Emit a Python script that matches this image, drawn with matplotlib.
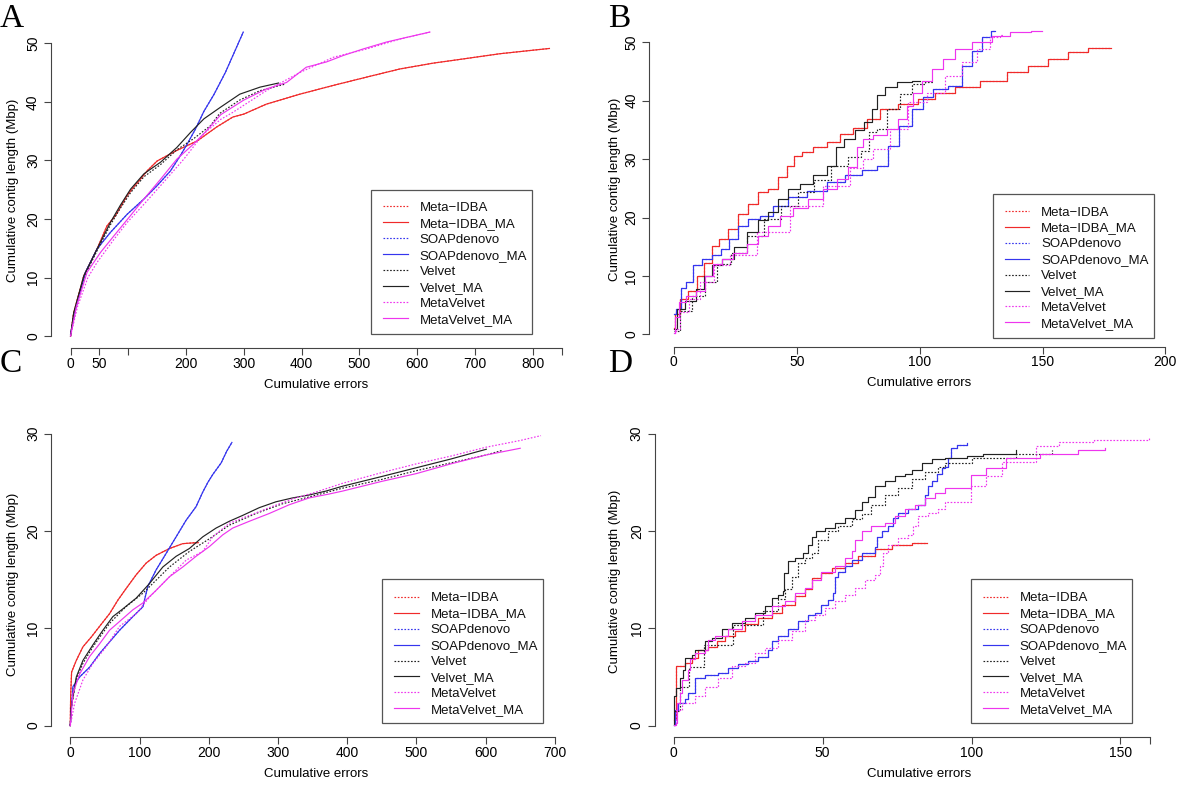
import matplotlib
matplotlib.use("Agg")
import matplotlib.pyplot as plt
from matplotlib.patches import Rectangle
from matplotlib.lines import Line2D

plt.rcParams['font.family'] = ['Liberation Sans', 'DejaVu Sans']

# ---------------- data ----------------
labels = ["Meta\u2212IDBA", "Meta\u2212IDBA_MA", "SOAPdenovo", "SOAPdenovo_MA",
          "Velvet", "Velvet_MA", "MetaVelvet", "MetaVelvet_MA"]
colors = ["#f02a2a", "#f02a2a", "#3535ee", "#3535ee",
          "#222222", "#222222", "#ee35ee", "#ee35ee"]
dotted = [True, False, True, False, True, False, True, False]

# Panel A
a_idba_ma_x = [0, 5.5, 23, 46, 63, 78, 98, 109, 121, 132.5, 150, 184, 219, 253, 281, 300, 339, 397, 455, 512, 570, 628, 686, 743, 800, 829]
a_idba_ma_y = [0, 4, 10.3, 14.9, 18.8, 20.6, 24, 25.4, 26.8, 28.2, 29.9, 31.7, 33.3, 35.7, 37.4, 37.9, 39.6, 41.3, 42.8, 44.2, 45.6, 46.6, 47.4, 48.2, 48.8, 49.1]
a_idba_x, a_idba_y = a_idba_ma_x, a_idba_ma_y
a_soap_ma_x = [0, 8.5, 25.8, 46, 69, 98, 127, 150, 173, 190, 202, 216, 231, 248, 268, 286, 299]
a_soap_ma_y = [0.3, 4.6, 10.9, 14.9, 17.7, 20.8, 23.4, 25.7, 28.2, 30.8, 32.8, 35.3, 38.4, 41.2, 45.0, 49.0, 51.9]
a_soap_x, a_soap_y = a_soap_ma_x, a_soap_ma_y
a_velvet_ma_x = [0, 5.5, 23, 46, 69, 86, 104, 127, 156, 184, 208, 231, 260, 293, 328, 360]
a_velvet_ma_y = [0, 4, 10.3, 14.9, 19.4, 22.3, 25.1, 27.7, 29.7, 32.2, 34.8, 37.1, 39.1, 41.3, 42.5, 43.2]
a_velvet_x = [0, 5.5, 23, 46, 69, 86, 104, 127, 156, 184, 213, 242, 258, 293, 328, 371]
a_velvet_y = [0, 3.8, 10.0, 14.6, 19.0, 21.8, 24.5, 27.2, 29.3, 31.8, 33.7, 35.9, 38.0, 40.3, 41.9, 43.0]
a_mvelvet_ma_x = [0, 10, 28.6, 52, 75, 104, 127, 156, 184, 213, 235, 260, 300, 339, 374, 408, 443, 472, 506, 547, 582, 622]
a_mvelvet_ma_y = [0, 5, 10.9, 14.3, 17.1, 20.6, 23.4, 26.8, 30.2, 32.8, 35.0, 37.8, 40.3, 42.2, 43.3, 45.9, 46.8, 47.9, 49, 50.2, 51, 51.9]
a_mvelvet_x = [0, 12, 30, 46, 75, 98, 127, 156, 196, 230, 260, 281, 339, 397, 455, 512, 570, 622]
a_mvelvet_y = [0, 5, 10, 12.6, 16.5, 19.4, 22.5, 25.7, 30.2, 34.5, 37.0, 38.2, 41.9, 45, 47.6, 49, 50.7, 51.9]

# Panel B
b_idba_ma_x = [0, 1.1, 3.8, 7.9, 10.6, 14, 16.7, 20.1, 24.2, 28.2, 32.3, 36.4, 40.5, 44.5, 47.9, 50, 54, 59.5, 64.9, 70.3, 75.7, 81.2, 86.6, 96.1, 102.9, 109.6, 119.2, 130, 140.9, 147.7, 157.1, 163.9, 173.4, 178]
b_idba_ma_y = [1.1, 3.5, 6, 7.5, 10, 12.3, 15.2, 16.3, 18, 20.6, 22.3, 24.3, 24.9, 26.9, 28.9, 30.6, 31.2, 32, 32.9, 34.3, 35.3, 36.9, 38.6, 39.4, 40.3, 41.4, 42.3, 43.4, 44.9, 46, 47.1, 48.3, 49, 49.1]
b_idba_x, b_idba_y = b_idba_ma_x, b_idba_ma_y
b_soap_ma_x = [0, 1.8, 3.8, 6.5, 9.3, 13.3, 17.4, 20.8, 24.2, 28.2, 32.3, 37.8, 43.2, 50, 58, 66.3, 73, 79.8, 85.2, 89.3, 94, 99.5, 102.9, 108.3, 115.1, 119.2, 123.2, 127.3, 130.7]
b_soap_ma_y = [3.5, 4.3, 8.0, 8.9, 11.8, 12.9, 13.5, 14.6, 16.3, 18.6, 19.7, 20.3, 22, 23.5, 24.6, 26, 27.2, 28.1, 28.9, 32.3, 35.7, 38.6, 40.6, 42, 42.6, 46, 48.6, 50.9, 52]
b_soap_x, b_soap_y = b_soap_ma_x, b_soap_ma_y
b_velvet_ma_x = [0, 2.7, 6.8, 10.9, 13.6, 17.4, 22.1, 26.9, 32.3, 36.4, 40.5, 44.5, 48.6, 54, 59.5, 64.9, 66.9, 71.7, 75.7, 79.1, 81.8, 83.9, 88, 93.4, 100.2]
b_velvet_ma_y = [0.9, 4.3, 5.7, 7.7, 10, 11.8, 12.9, 14.9, 17.5, 19.5, 20.9, 23.2, 24.9, 25.7, 27.2, 28.9, 32, 33.4, 35.0, 36.3, 38.6, 40.9, 42.3, 43.2, 43.4]
b_velvet_x = [0, 5, 10, 15, 20, 26.9, 33, 40.5, 47, 54, 60, 67.6, 74.4, 78, 81.2, 83.9, 89.3, 94.8, 98.8, 105.6]
b_velvet_y = [0.5, 4, 6.5, 9, 12, 14, 16.8, 19.7, 22, 24.3, 26.5, 28.9, 30.3, 31.4, 34.6, 35.2, 38.6, 41.1, 42.9, 43.2]
b_mvelvet_ma_x = [0, 1.1, 3.2, 6.8, 10.9, 14.7, 17.4, 21.5, 26.9, 32.3, 36.4, 40.5, 45.9, 51.3, 58.1, 63.5, 69, 73, 75.7, 78.5, 83.9, 89.3, 93.4, 96.1, 98.8, 102.9, 107, 112.4, 116.4, 125.9, 132.7, 140.9, 149.7]
b_mvelvet_ma_y = [0.3, 2.9, 5.5, 6.6, 7.5, 10, 12, 12.9, 14, 15.5, 16.9, 18.6, 20.3, 21.7, 23.2, 24.9, 26.6, 28.6, 32.0, 33.4, 34.2, 35.2, 36.9, 39.1, 41.4, 43.4, 45.4, 47.1, 48.8, 50, 51.1, 51.8, 52]
b_mvelvet_x = [0, 1.4, 4, 8, 13.6, 19, 27, 40.5, 54, 67.6, 75.7, 78.5, 83.9, 92, 98.8, 107, 113.7, 120.5, 125.9, 131.4, 134]
b_mvelvet_y = [0.2, 0.9, 3.8, 6, 8.9, 11.8, 13.5, 17.5, 22, 25.4, 28.5, 30.0, 31.7, 35.2, 39.7, 41.4, 44.3, 46.6, 48.9, 50.9, 51.2]

# Panel C
c_idba_ma_x = [0, 0.5, 1.9, 8.7, 18.3, 30.3, 42.3, 56.7, 68.8, 80.8, 95.2, 109.6, 124, 143.3, 162.5, 181.7, 185]
c_idba_ma_y = [0, 3.0, 5.5, 6.7, 8.1, 9.1, 10.2, 11.5, 12.9, 14.1, 15.5, 16.7, 17.5, 18.2, 18.7, 18.8, 18.8]
c_idba_x, c_idba_y = c_idba_ma_x, c_idba_ma_y
c_soap_ma_x = [0, 3.8, 13.5, 27.9, 42.3, 56.7, 71.2, 90.4, 104.8, 112, 124, 138.5, 152.9, 167.3, 181.7, 191.4, 198.8, 205.8, 218, 226, 233.5]
c_soap_ma_y = [0, 4, 5, 6, 7.4, 8.6, 9.8, 11.2, 12.2, 14.3, 16, 17.7, 19.4, 21.1, 22.5, 24.0, 25.0, 25.8, 27.0, 28.2, 29.1]
c_soap_x, c_soap_y = c_soap_ma_x, c_soap_ma_y
c_velvet_ma_x = [0, 1.4, 8.7, 18.3, 32.7, 47.1, 61.5, 76, 95.2, 114.4, 133.7, 152.9, 172.1, 191.4, 210.6, 229.8, 249, 273.1, 297.1, 321.2, 345.2, 369.2, 393.3, 450, 500, 550, 601]
c_velvet_ma_y = [0, 1.9, 5, 6.7, 8.3, 9.8, 11.2, 12, 13.1, 14.6, 16.3, 17.4, 18.2, 19.4, 20.3, 21, 21.6, 22.4, 23, 23.4, 23.7, 24.1, 24.6, 25.6, 26.5, 27.4, 28.4]
c_velvet_x = [0, 1.4, 8.7, 18.3, 32.7, 56.7, 80, 104.8, 143.3, 172.1, 201, 229.8, 268.3, 306.7, 345.2, 393.3, 450, 500, 550, 600, 625]
c_velvet_y = [0, 1.8, 4.8, 6.4, 8.1, 10.5, 12.2, 13.6, 16.3, 17.9, 19.2, 20.6, 21.8, 22.8, 23.5, 24.4, 25.3, 26.2, 27, 27.8, 28.3]
c_mvelvet_ma_x = [0, 3.8, 13.5, 27.9, 42.3, 56.7, 76, 90.4, 104.8, 124, 143.3, 162.5, 181.7, 201, 220.2, 234.6, 258.7, 287.5, 316.4, 345.2, 374, 393.3, 450, 500, 550, 600, 650]
c_mvelvet_ma_y = [0, 3.3, 5.3, 7.1, 8.4, 9.8, 11, 11.9, 12.6, 13.9, 15.3, 16.3, 17.4, 18.4, 19.6, 20.3, 21, 21.8, 22.7, 23.4, 23.8, 24.1, 25.1, 25.9, 26.9, 27.8, 28.5]
c_mvelvet_x = [0, 6.3, 18.3, 32.7, 51.9, 71.2, 95.2, 114.4, 143.3, 167.3, 191.4, 205.8, 229.8, 258.7, 287.5, 321.2, 354.8, 393.3, 450, 500, 550, 600, 650, 680]
c_mvelvet_y = [0, 2.3, 4.7, 6.4, 8.1, 10.2, 11.5, 13.2, 15.3, 17, 17.9, 19.4, 20.8, 21.6, 22.4, 23.3, 24, 24.9, 26.0, 26.9, 27.7, 28.6, 29.3, 29.8]

# Panel D
d_idba_ma_x = [0, 0.6, 0.9, 3.7, 6, 8.2, 11.6, 14.4, 17.2, 20.5, 23.9, 28.4, 32.9, 36.2, 40.7, 44, 46.3, 49.6, 53, 57.5, 62, 67.6, 73.2, 79.9, 85]
d_idba_ma_y = [0.6, 5.4, 6.1, 6.4, 6.9, 7.8, 8.1, 8.7, 9.2, 9.7, 10.4, 11.1, 11.6, 12.4, 13.3, 14, 15.2, 15.7, 16.2, 16.7, 17.4, 18.2, 18.6, 18.8, 18.8]
d_idba_x, d_idba_y = d_idba_ma_x, d_idba_ma_y
d_soap_ma_x = [0, 0.4, 1.5, 3.7, 4.9, 7.1, 10.5, 14.9, 18.3, 21.6, 25, 28.4, 31.7, 32.9, 35.1, 38.5, 41.8, 45.1, 47.4, 49.6, 51.9, 53.6, 54.1, 55.2, 57.5, 59.7, 63.1, 67.6, 68.1, 69.8, 72, 73.7, 75.4, 78.7, 82.1, 84.4, 85.5, 86.6, 88.3, 90, 91.1, 92.2, 93, 95, 98.5]
d_soap_ma_y = [0.1, 1.6, 2.3, 2.7, 3.4, 4.9, 5.2, 5.4, 5.9, 6.3, 6.6, 7.1, 7.8, 8.7, 9.2, 9.9, 10.7, 11.4, 11.6, 12.4, 12.9, 13.6, 15.3, 15.8, 16.4, 17, 17.7, 18.4, 19.4, 20, 20.5, 21.3, 21.8, 22.3, 22.7, 23.7, 24.6, 25.1, 25.9, 26.5, 26.6, 27.5, 28.5, 28.8, 29.0]
d_soap_x, d_soap_y = d_soap_ma_x, d_soap_ma_y
d_velvet_ma_x = [0, 0.15, 0.9, 2.1, 3.2, 3.7, 6, 7.1, 10.5, 12.7, 16.1, 19.4, 23.9, 27.3, 30.6, 32.9, 35.1, 36.8, 37.1, 38.5, 40.7, 43.5, 45.1, 46.3, 47.9, 50.8, 54.1, 57.5, 60.8, 63.1, 65.3, 67.6, 70.9, 74.3, 77.6, 79.9, 83.2, 86.6, 91.1, 98.6, 103.7, 115]
d_velvet_ma_y = [0.1, 3.0, 3.9, 4.9, 5.7, 6.9, 7.3, 7.8, 8.7, 9, 9.9, 10.5, 11.1, 11.6, 12.3, 13.1, 13.4, 13.8, 15.7, 16.9, 17.2, 17.7, 18.6, 19.4, 20, 20.3, 20.8, 21.3, 22.2, 23, 23.5, 24.6, 25.1, 25.6, 25.9, 26.3, 27, 27.4, 27.5, 27.7, 27.9, 28.3]
d_velvet_x = [0, 2, 5, 10, 20, 30, 35, 37.3, 39.6, 41.8, 44, 46.3, 48.5, 51.9, 55.2, 59.7, 63.1, 66.4, 70.9, 75.4, 79.9, 84.4, 88.8, 91.1, 100, 115, 127]
d_velvet_y = [1.5, 4, 6, 8.3, 10.3, 11.8, 13, 14, 15.3, 16.7, 17.2, 17.7, 19.1, 20, 20.5, 21.2, 21.7, 22.7, 23.7, 24.4, 25.3, 26.1, 26.6, 27, 27.5, 27.9, 28.3]
d_mvelvet_ma_x = [0, 0.9, 1.2, 2.1, 2.6, 4.9, 5.4, 7.1, 10.5, 11.6, 13.8, 18.3, 22.8, 27.2, 32.9, 37.3, 40.7, 44, 46.3, 49.6, 54.1, 57.5, 59.7, 60.8, 63.1, 66.4, 70.9, 74.3, 77.6, 81, 84.4, 87.7, 91.1, 99.9, 105, 111.5, 123, 135.9, 144.9]
d_mvelvet_ma_y = [0.1, 0.3, 2.3, 3.4, 4.7, 5.7, 6.8, 7.5, 7.8, 8.8, 9.2, 9.9, 10.7, 11.4, 12.3, 12.8, 13.6, 14.1, 15, 15.8, 16.4, 17.2, 17.9, 19.1, 20, 20.5, 20.8, 21.5, 22.3, 22.7, 23.4, 23.9, 24.4, 25.8, 26.5, 27.5, 27.9, 28.3, 28.5]
d_mvelvet_x = [0, 0.9, 2.6, 7.1, 10.5, 14.9, 19.4, 23.9, 27.3, 30.6, 35.1, 39.6, 44, 47.4, 50.8, 54.1, 57.5, 60.8, 64.2, 67.6, 69.2, 70.4, 72, 75.4, 78.7, 80.4, 82.1, 85.5, 88.8, 91.1, 99.9, 105, 110.1, 121.7, 129.4, 141, 159.7]
d_mvelvet_y = [0.1, 1.6, 2.3, 3, 4, 4.9, 6.1, 6.4, 7.5, 8, 8.8, 9.7, 10.9, 11.4, 12.1, 12.8, 13.4, 14.1, 15, 15.5, 16.4, 17.7, 18.6, 19.3, 19.6, 20.5, 21.5, 21.8, 22.3, 23, 24.6, 25.7, 27.1, 28.7, 29.1, 29.3, 29.7]

# axis ticks
a_xticks = [0, 50, 100, 200, 300, 400, 500, 600, 700, 800, 850]
a_xticklabels = ["0", "50", "", "200", "300", "400", "500", "600", "700", "800", ""]
b_xticks = [0, 50, 100, 150, 200]
b_xticklabels = ["0", "50", "100", "150", "200"]
c_xticks = [0, 100, 200, 300, 400, 500, 600, 700]
c_xticklabels = ["0", "100", "200", "300", "400", "500", "600", "700"]
d_xticks = [0, 50, 100, 150, 160]
d_xticklabels = ["0", "50", "100", "150", ""]
ab_yticks = [0, 10, 20, 30, 40, 50]
cd_yticks = [0, 10, 20, 30]

# ---------------- figure ----------------
W, H = 1200, 792
fig = plt.figure(figsize=(12, 7.92), dpi=100)
AXC = "#444444"
FS = 9.5
TFS = 10


def fx(px):
    return px / W


def fy(py):
    return 1 - py / H


def panel(box, xlim, ylim, xticks, xtl, yticks, series, drawstyle):
    left, right, top, bottom = box
    ax = fig.add_axes([fx(left), fy(bottom), (right - left) / W, (bottom - top) / H])
    for (xs, ys), col, dt in zip(series, colors, dotted):
        ax.plot(xs, ys, color=col, lw=0.85,
                ls=(0, (1.4, 1.4)) if dt else '-', drawstyle=drawstyle)
    ax.set_xlim(*xlim)
    ax.set_ylim(*ylim)
    for s in ("top", "right"):
        ax.spines[s].set_visible(False)
    for s in ("left", "bottom"):
        ax.spines[s].set_color(AXC)
        ax.spines[s].set_linewidth(0.8)
    ax.spines["bottom"].set_bounds(xticks[0], xticks[-1])
    ax.spines["left"].set_bounds(yticks[0], yticks[-1])
    ax.set_xticks(xticks)
    ax.set_xticklabels(xtl)
    ax.set_yticks(yticks)
    ax.set_yticklabels([str(v) for v in yticks])
    ax.tick_params(direction="out", length=4.8, width=0.8, color=AXC,
                   labelsize=TFS, pad=1.5)
    ax.tick_params(axis="y", pad=3)
    for t in ax.get_yticklabels():
        t.set_rotation(90)
        t.set_va("center")
    ax.patch.set_visible(False)
    return ax


def legend(box, sx0, sx1, tx, y0, dy):
    l, r, t, b = box
    fig.add_artist(Rectangle((fx(l), fy(b)), (r - l) / W, (b - t) / H,
                             transform=fig.transFigure, fill=False,
                             ec="#555555", lw=0.9))
    for i, (lab, col, dt) in enumerate(zip(labels, colors, dotted)):
        y = y0 + i * dy
        fig.add_artist(Line2D([fx(sx0), fx(sx1)], [fy(y), fy(y)],
                              transform=fig.transFigure, color=col, lw=0.85,
                              ls=(0, (1.4, 1.4)) if dt else '-'))
        fig.text(fx(tx), fy(y + 4.6), lab, fontsize=FS, ha="left", va="baseline",
                 color="#111111")


# Panel A
panel((50.9, 581.2, 19.3, 348.3), (-34, 884), (-2.08, 54.08), a_xticks, a_xticklabels, ab_yticks,
      [(a_idba_x, a_idba_y), (a_idba_ma_x, a_idba_ma_y), (a_soap_x, a_soap_y), (a_soap_ma_x, a_soap_ma_y),
       (a_velvet_x, a_velvet_y), (a_velvet_ma_x, a_velvet_ma_y), (a_mvelvet_x, a_mvelvet_y),
       (a_mvelvet_ma_x, a_mvelvet_ma_y)], 'default')
# Panel B
panel((649, 1189, 18.4, 346.6), (-10.1, 209.6), (-2.1, 54.1), b_xticks, b_xticklabels, ab_yticks,
      [(b_idba_x, b_idba_y), (b_idba_ma_x, b_idba_ma_y), (b_soap_x, b_soap_y), (b_soap_ma_x, b_soap_ma_y),
       (b_velvet_x, b_velvet_y), (b_velvet_ma_x, b_velvet_ma_y), (b_mvelvet_x, b_mvelvet_y),
       (b_mvelvet_ma_x, b_mvelvet_ma_y)], 'steps-mid')
# Panel C
panel((50.9, 574.2, 422, 737.3), (-28, 728), (-1.2, 31.2), c_xticks, c_xticklabels, cd_yticks,
      [(c_idba_x, c_idba_y), (c_idba_ma_x, c_idba_ma_y), (c_soap_x, c_soap_y), (c_soap_ma_x, c_soap_ma_y),
       (c_velvet_x, c_velvet_y), (c_velvet_ma_x, c_velvet_ma_y), (c_mvelvet_x, c_mvelvet_y),
       (c_mvelvet_ma_x, c_mvelvet_ma_y)], 'default')
# Panel D
panel((654.7, 1169.3, 422, 737.3), (-6.4, 166.4), (-1.2, 31.2), d_xticks, d_xticklabels, cd_yticks,
      [(d_idba_x, d_idba_y), (d_idba_ma_x, d_idba_ma_y), (d_soap_x, d_soap_y), (d_soap_ma_x, d_soap_ma_y),
       (d_velvet_x, d_velvet_y), (d_velvet_ma_x, d_velvet_ma_y), (d_mvelvet_x, d_mvelvet_y),
       (d_mvelvet_ma_x, d_mvelvet_ma_y)], 'steps-post')

# legends
legend((371.2, 532, 190, 334), 382.7, 407.6, 419.8, 206.3, 16.0)
legend((993.4, 1154.2, 194.3, 338.3), 1005, 1029.4, 1041.3, 211, 15.9)
legend((382, 543.4, 579.3, 723.3), 394, 419, 430.5, 596.7, 15.95)
legend((971.2, 1132, 579.3, 723.3), 982.7, 1007.6, 1019.8, 596.7, 15.95)

# axis titles
YL = "Cumulative contig length (Mbp)"
XL = "Cumulative errors"
for (x, y) in [(13.4, 190.8), (615.3, 189), (13.4, 584.3), (615.3, 581)]:
    fig.text(fx(x), fy(y), YL, rotation=90, ha="center", va="center", fontsize=FS)
for (x, y) in [(316, 385), (919, 382.7), (316, 773.7), (919, 774.3)]:
    fig.text(fx(x), fy(y), XL, ha="center", va="center", fontsize=FS)

# panel letters
for (x, y, s) in [(0, 27, "A"), (607.7, 27, "B"), (0, 372, "C"), (607.7, 372, "D")]:
    fig.text(fx(x), fy(y), s, ha="left", va="baseline", fontsize=24,
             family=["Liberation Serif", "DejaVu Serif"])

fig.savefig("out.png", dpi=100)
